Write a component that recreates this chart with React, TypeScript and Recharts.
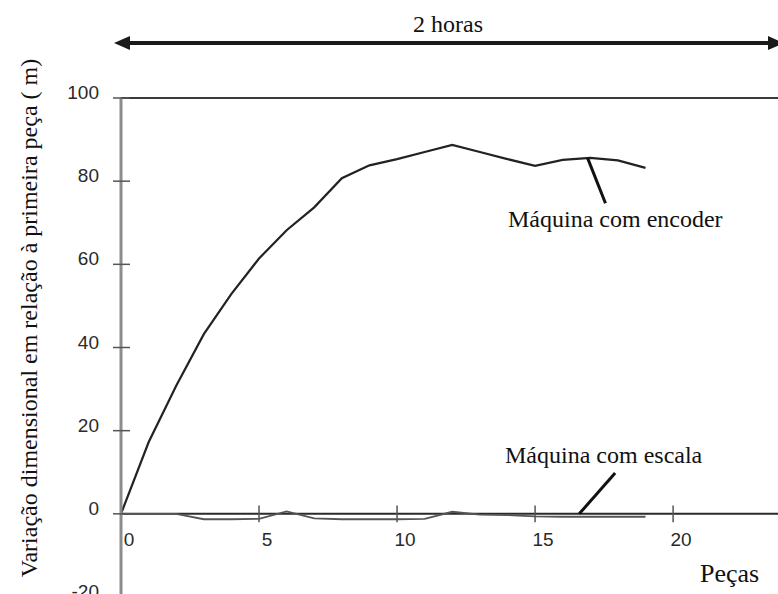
import React from 'react';
import { LineChart, Line, XAxis, YAxis, ReferenceLine } from 'recharts';

// Dados (variação em µm por peça)
const PECAS = [0, 1, 2, 3, 4, 5, 6, 7, 8, 9, 10, 11, 12, 13, 14, 15, 16, 17, 18, 19];
const ENCODER = [0, 17.2, 30.8, 43.2, 52.9, 61.4, 68.2, 73.7, 80.7, 83.8, 85.3, 87.0, 88.7, 87.0, 85.3, 83.7, 85.1, 85.6, 85.0, 83.2];
const ESCALA = [0, 0, 0, -1.3, -1.3, -1.2, 0.6, -1.1, -1.3, -1.3, -1.3, -1.2, 0.5, -0.2, -0.3, -0.6, -0.7, -0.7, -0.7, -0.7];

const X_TICKS = [0, 5, 10, 15, 20];
const Y_TICKS = [-20, 0, 20, 40, 60, 80, 100];

// linhas de chamada (coordenadas de dados)
const LEADER_ENCODER = [{ x: 16.9, y: 85.6 }, { x: 17.55, y: 74.7 }];
const LEADER_ESCALA = [{ x: 16.6, y: 0 }, { x: 17.9, y: 9.8 }];

const data = PECAS.map((p, i) => ({ peca: p, encoder: ENCODER[i], escala: ESCALA[i] }));

const SANS = "'Liberation Sans', Arial, 'DejaVu Sans', sans-serif";
const SERIF = "'Liberation Serif', 'Times New Roman', 'DejaVu Serif', serif";

function YTick({ x, y, payload }: any) {
  return (
    <g>
      <line x1={x - 8} x2={x + 9} y1={y} y2={y} stroke="#555" strokeWidth={1.5} />
      <text x={x - 22} y={y + 1} textAnchor="end" fill="#2a2a2a" style={{ fontFamily: SANS, fontSize: 19 }}>
        {payload.value}
      </text>
    </g>
  );
}

function XTickLabel({ viewBox, text }: any) {
  if (!viewBox) return null;
  return (
    <text
      x={viewBox.x + 8}
      y={viewBox.y + viewBox.height + 24}
      textAnchor="middle"
      fill="#2a2a2a"
      style={{ fontFamily: SANS, fontSize: 19 }}
    >
      {text}
    </text>
  );
}

const serifText = (size: number) => ({ fontFamily: SERIF, fontSize: size });

export default function App() {
  return (
    <div
      style={{
        position: 'absolute',
        left: 0,
        top: 0,
        width: 778,
        height: 594,
        overflow: 'hidden',
        background: '#fff',
      }}
    >
      <LineChart
        width={778}
        height={597}
        data={data}
        margin={{ top: 98, right: 0, bottom: 0, left: 0 }}
      >
        <XAxis dataKey="peca" type="number" domain={[0, 23.8]} hide />
        <YAxis
          type="number"
          domain={[-20, 100]}
          ticks={Y_TICKS}
          interval={0}
          width={121}
          tickSize={0}
          tickMargin={0}
          tickLine={false}
          axisLine={{ stroke: '#8c8c8c', strokeWidth: 3 }}
          tick={<YTick />}
        />

        {/* borda superior e linha do zero */}
        <ReferenceLine y={100} stroke="#3a3a3a" strokeWidth={2} />
        <ReferenceLine y={0} stroke="#2a2a2a" strokeWidth={2} />

        {/* marcas do eixo das peças, cruzando a linha do zero */}
        {X_TICKS.map((t) => (
          <ReferenceLine
            key={t}
            segment={[{ x: t, y: -2 }, { x: t, y: 2 }]}
            stroke={t === 0 ? 'none' : '#555'}
            strokeWidth={1.5}
            label={<XTickLabel text={t} />}
          />
        ))}

        <Line
          type="linear"
          dataKey="escala"
          stroke="#555"
          strokeWidth={1.8}
          dot={false}
          isAnimationActive={false}
        />
        <Line
          type="linear"
          dataKey="encoder"
          stroke="#222"
          strokeWidth={2.2}
          dot={false}
          isAnimationActive={false}
        />

        <ReferenceLine segment={LEADER_ENCODER} stroke="#111" strokeWidth={3} ifOverflow="visible" />
        <ReferenceLine segment={LEADER_ESCALA} stroke="#111" strokeWidth={3} ifOverflow="visible" />
      </LineChart>

      <svg
        width={778}
        height={594}
        style={{ position: 'absolute', left: 0, top: 0, pointerEvents: 'none' }}
      >
        <text x={448} y={32} textAnchor="middle" fill="#111" style={serifText(24)}>
          2 horas
        </text>
        <line x1={124} x2={770} y1={43} y2={43} stroke="#1a1a1a" strokeWidth={4} />
        <polygon points="114,43 130,36 130,50" fill="#1a1a1a" />
        <polygon points="784,43 768,36 768,50" fill="#1a1a1a" />

        <text
          x={37}
          y={318}
          transform="rotate(-90, 37, 318)"
          textAnchor="middle"
          fill="#111"
          style={serifText(24)}
        >
          Variação dimensional em relação à primeira peça (  m)
        </text>

        <text x={508} y={227} fill="#111" style={serifText(24)}>
          Máquina com encoder
        </text>
        <text x={505} y={463} fill="#111" style={serifText(24)}>
          Máquina com escala
        </text>
        <text x={700} y={582} fill="#111" style={serifText(26)}>
          Peças
        </text>
      </svg>
    </div>
  );
}
